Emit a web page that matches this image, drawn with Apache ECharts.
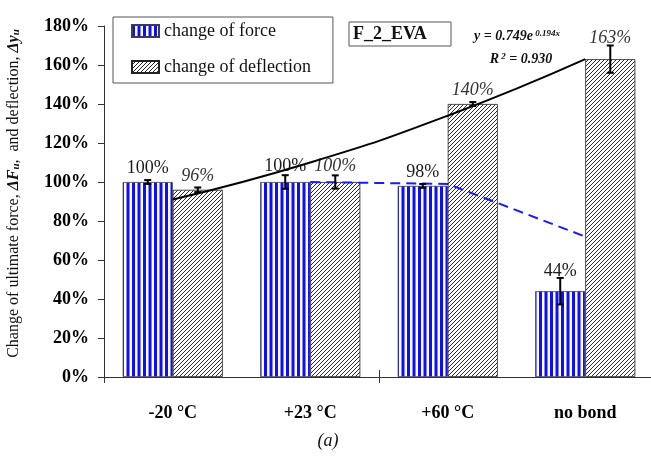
<!DOCTYPE html>
<html>
<head>
<meta charset="utf-8">
<script src="https://cdn.jsdelivr.net/npm/echarts/dist/echarts.min.js"></script>
<style>
  html, body { margin: 0; padding: 0; background: #fff; }
  #chart { width: 651px; height: 465px; }
</style>
</head>
<body>
<div id="chart"></div>
<script>
// Temperature groups on the x axis
const categories = ['-20 °C', '+23 °C', '+60 °C', 'no bond'];

// Change of ultimate force ΔFu (%) and its scatter (±%)
const forceChange = [100, 100, 98, 44];
const forceError = [1, 3.5, 1, 6.8];

// Change of deflection Δyu (%) and its scatter (±%)
const deflectionChange = [96, 100, 140, 163];
const deflectionError = [1.2, 3.4, 1, 7];

// Exponential trend of deflection (y = 0.749e^0.194x) at the group centres
const deflectionTrend = [91, 110, 134, 163];
// Trend of the force change (starts at +23 °C)
const forceTrend = [null, 100, 99, 72];

// Value axis ticks (%)
const yMin = 0, yMax = 180, yStep = 20;

const BAR_RATIO = 0.364;       // share of a category taken by one bar
const PX_PER_PCT = 351 / 180;  // used only to keep labels above the error caps

// Fill patterns: blue vertical stripes and black diagonal hatching
function stripePattern() {
  const c = document.createElement('canvas');
  c.width = 11; c.height = 8;
  const g = c.getContext('2d');
  g.fillStyle = '#fff'; g.fillRect(0, 0, 11, 8);
  g.fillStyle = '#0d0dff';
  g.fillRect(0, 0, 3, 8);
  g.fillRect(5.5, 0, 3, 8);
  return c;
}
function hatchPattern() {
  const c = document.createElement('canvas');
  c.width = 4; c.height = 4;
  const g = c.getContext('2d');
  g.fillStyle = '#fff'; g.fillRect(0, 0, 4, 4);
  g.strokeStyle = '#2a2a2a'; g.lineWidth = 1;
  g.beginPath();
  g.moveTo(-1, 5); g.lineTo(5, -1);
  g.moveTo(-1, 1); g.lineTo(1, -1);
  g.moveTo(3, 5); g.lineTo(5, 3);
  g.stroke();
  return c;
}
const forceFill = { image: stripePattern(), repeat: 'repeat' };
const deflFill = { image: hatchPattern(), repeat: 'repeat' };

function labelGap(err) { return Math.max(err * PX_PER_PCT * 0.7, 3) + 2; }

const serif = 'Liberation Serif, Times New Roman, serif';

const errorData = [];
categories.forEach((_, i) => {
  errorData.push([i, forceChange[i], forceError[i], -1]);
  errorData.push([i, deflectionChange[i], deflectionError[i], 1]);
});

// ticks only at every second category boundary
const everyOther = (idx) => idx % 2 === 0;

const chart = echarts.init(document.getElementById('chart'), null, { renderer: 'canvas' });
chart.setOption({
  backgroundColor: '#fff',
  animation: false,
  grid: { left: 104, right: -3, top: 26, bottom: 88, containLabel: false, outerBoundsMode: 'none' },
  legend: {
    data: ['change of force', 'change of deflection'],
    orient: 'vertical',
    left: 113, top: 17,
    icon: 'rect',
    itemWidth: 27, itemHeight: 12, itemGap: 18,
    padding: [5, 22, 7, 18],
    backgroundColor: '#fff',
    borderColor: '#555', borderWidth: 1,
    textStyle: { fontFamily: serif, fontSize: 18, color: '#111', lineHeight: 18 }
  },
  xAxis: [{
    type: 'category',
    data: categories,
    axisLine: { lineStyle: { color: '#333', width: 1 } },
    axisTick: { show: true, interval: everyOther, length: 6, lineStyle: { color: '#333' } },
    axisLabel: { interval: 0, margin: 27, fontFamily: serif, fontSize: 18, fontWeight: 'bold', color: '#000' },
    splitLine: { show: false }
  }, {
    type: 'category',
    data: categories,
    position: 'bottom',
    axisLine: { show: false },
    axisTick: { show: true, inside: true, interval: everyOther, length: 7, lineStyle: { color: '#333' } },
    axisLabel: { show: false },
    splitLine: { show: false }
  }],
  yAxis: {
    type: 'value',
    min: yMin, max: yMax, interval: yStep,
    name: 'Change of ultimate force, {b|ΔF}{s|u}{r|,  and deflection, }{b|Δy}{s|u}',
    nameLocation: 'middle',
    nameGap: 82,
    nameRotate: 90,
    nameTextStyle: {
      fontFamily: serif, fontSize: 16, color: '#111', padding: [0, 0, 0, 16],
      rich: {
        b: { fontFamily: serif, fontSize: 16, fontWeight: 'bold', fontStyle: 'italic', color: '#111' },
        s: { fontFamily: serif, fontSize: 11, fontWeight: 'bold', fontStyle: 'italic', color: '#111', verticalAlign: 'bottom', padding: [6, 0, 0, 0] },
        r: { fontFamily: serif, fontSize: 16, color: '#111' }
      }
    },
    axisLine: { show: true, lineStyle: { color: '#333', width: 1 } },
    axisTick: { show: true, length: 6, lineStyle: { color: '#333' } },
    axisLabel: { formatter: '{value}%', margin: 15, fontFamily: serif, fontSize: 18, fontWeight: 'bold', color: '#000' },
    splitLine: { show: false }
  },
  series: [
    {
      name: 'change of force',
      type: 'bar',
      barWidth: (BAR_RATIO * 100) + '%',
      barGap: '0%',
      itemStyle: { color: forceFill, borderColor: '#3a3a5a', borderWidth: 0.8 },
      label: {
        show: true, position: 'top', formatter: '{c}%',
        fontFamily: serif, fontSize: 18, color: '#1a1a1a'
      },
      data: forceChange.map((v, i) => ({ value: v, label: { distance: labelGap(forceError[i]) } })),
      z: 2
    },
    {
      name: 'change of deflection',
      type: 'bar',
      barWidth: (BAR_RATIO * 100) + '%',
      itemStyle: { color: deflFill, borderColor: '#222', borderWidth: 0.8 },
      label: {
        show: true, position: 'top', formatter: '{c}%',
        fontFamily: serif, fontSize: 18, fontStyle: 'italic', color: '#333'
      },
      data: deflectionChange.map((v, i) => ({ value: v, label: { distance: labelGap(deflectionError[i]) } })),
      z: 2
    },
    {
      name: 'deflection trend',
      type: 'line',
      data: deflectionTrend,
      smooth: true,
      symbol: 'none',
      lineStyle: { color: '#000', width: 2 },
      z: 5
    },
    {
      name: 'force trend',
      type: 'line',
      data: forceTrend,
      symbol: 'none',
      connectNulls: false,
      lineStyle: { color: '#1a1aff', width: 2, type: [10, 6] },
      z: 5
    },
    {
      name: 'scatter',
      type: 'custom',
      data: errorData,
      z: 10,
      renderItem(params, api) {
        const ci = api.value(0), v = api.value(1), e = api.value(2), side = api.value(3);
        const band = api.size([1, 0])[0];
        const x = api.coord([ci, v])[0] + side * band * BAR_RATIO / 2;
        const top = api.coord([ci, v + e])[1];
        const bot = api.coord([ci, v - e])[1];
        const cap = 3.5;
        const st = { stroke: '#000', lineWidth: 2 };
        return {
          type: 'group',
          children: [
            { type: 'line', shape: { x1: x, y1: top, x2: x, y2: bot }, style: st },
            { type: 'line', shape: { x1: x - cap, y1: top, x2: x + cap, y2: top }, style: st },
            { type: 'line', shape: { x1: x - cap, y1: bot, x2: x + cap, y2: bot }, style: st }
          ]
        };
      }
    }
  ],
  graphic: [
    { type: 'rect', shape: { x: 349, y: 22, width: 102, height: 24 }, style: { fill: '#fff', stroke: '#555', lineWidth: 1 }, z: 20 },
    { type: 'text', x: 353, y: 34, style: { text: 'F_2_EVA', fontFamily: serif, fontSize: 18, fontWeight: 'bold', fill: '#111', verticalAlign: 'middle' }, z: 21 },
    {
      type: 'text', x: 517, y: 36, z: 21,
      style: {
        text: '{m|y = 0.749e}{p| 0.194x}',
        align: 'center', verticalAlign: 'middle',
        rich: {
          m: { fontFamily: serif, fontSize: 14, fontWeight: 'bold', fontStyle: 'italic', fill: '#111' },
          p: { fontFamily: serif, fontSize: 9, fontWeight: 'bold', fontStyle: 'italic', fill: '#111', verticalAlign: 'top' }
        }
      }
    },
    {
      type: 'text', x: 521, y: 59, z: 21,
      style: {
        text: '{m|R}{p| 2}{m| = 0.930}',
        align: 'center', verticalAlign: 'middle',
        rich: {
          m: { fontFamily: serif, fontSize: 14, fontWeight: 'bold', fontStyle: 'italic', fill: '#111' },
          p: { fontFamily: serif, fontSize: 9, fontWeight: 'bold', fontStyle: 'italic', fill: '#111', verticalAlign: 'top' }
        }
      }
    },
    { type: 'text', x: 328, y: 441, style: { text: '(a)', fontFamily: serif, fontSize: 18, fontStyle: 'italic', fill: '#111', align: 'center', verticalAlign: 'middle' } }
  ]
});
</script>
</body>
</html>
